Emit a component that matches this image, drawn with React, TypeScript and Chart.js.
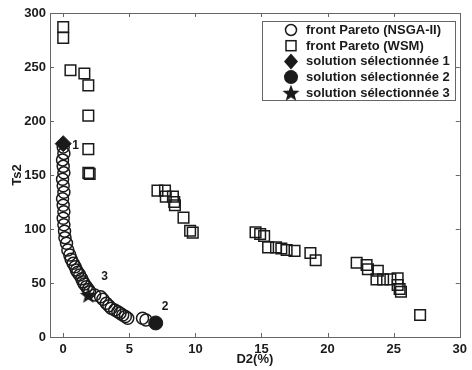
import React, { useEffect, useRef } from "react";
import { Chart, registerables } from "chart.js";

Chart.register(...registerables);

// ---- data ----
const xTicks = [0, 5, 10, 15, 20, 25, 30];
const yTicks = [0, 50, 100, 150, 200, 250, 300];

const seriesLabels = [
  "front Pareto (NSGA-II)",
  "front Pareto (WSM)",
  "solution sélectionnée 1",
  "solution sélectionnée 2",
  "solution sélectionnée 3",
];
const selectionTags = ["1", "2", "3"];

const nsgaX = [
  0, 0.05, -0.05, 0, 0.05, -0.05, 0, 0.05, -0.05, 0, 0.05, 0, 0.05, 0.1, 0.13,
  0.25, 0.35, 0.5, 0.6, 0.75, 0.9, 1.0, 1.1, 1.25, 1.4, 1.5, 1.6, 1.75, 1.9, 2.0,
  2.38, 2.83, 3.0, 3.26, 3.45, 3.63, 3.9, 4.13, 4.3, 4.5, 4.7, 4.88, 6.0, 6.26,
];
const nsgaY = [
  176, 170, 164, 158, 152, 146, 140, 134, 128, 122, 116, 110, 104, 98, 92,
  86.8, 80.6, 76, 72, 68.2, 65, 62, 60, 57.4, 54, 51.2, 49, 46.6, 44, 42,
  38.9, 37.3, 35, 31.2, 29, 26.6, 25, 23.4, 22, 20.4, 19, 17.3, 17.3, 15.7,
];

const wsmX = [
  0, 0, 0.55, 1.6, 1.9, 1.9, 1.9, 1.9, 2.0,
  7.13, 7.7, 7.76, 8.3, 8.4, 8.45, 9.1, 9.6, 9.8,
  14.55, 14.9, 15.2, 15.5, 16.1, 16.5, 16.9, 17.5, 18.7, 19.1,
  22.2, 22.95, 23.05, 23.8, 23.7, 24.2, 24.75, 25.3, 25.3, 25.45, 25.55, 27.0,
];
const wsmY = [
  287, 277, 247, 244, 233, 205, 174, 152, 151,
  135.5, 135.5, 130, 130, 125, 122, 110.5, 98.4, 96.6,
  97, 95.4, 93.5, 83, 83, 82, 80.6, 79.7, 77.8, 71,
  68.8, 66.7, 62.7, 61.4, 53.4, 53.4, 53.4, 54.3, 48.1, 44.4, 41.9, 20.4,
];

const sel1X = [0];
const sel1Y = [179];
const sel2X = [7.0];
const sel2Y = [13];
const sel3X = [1.9];
const sel3Y = [39];

const FONT = "'Liberation Sans', Arial, Helvetica, sans-serif";
const INK = "#1a1a1a";
const AXIS = "#666666";

function makeStar(outer: number, inner: number, color: string) {
  const size = Math.ceil(outer * 2 + 2);
  const c = document.createElement("canvas");
  c.width = size;
  c.height = size;
  const g = c.getContext("2d")!;
  const cx = size / 2;
  const cy = size / 2 + 0.8;
  g.beginPath();
  for (let i = 0; i < 10; i++) {
    const r = i % 2 === 0 ? outer : inner;
    const a = -Math.PI / 2 + (i * Math.PI) / 5;
    const px = cx + r * Math.cos(a);
    const py = cy + r * Math.sin(a);
    if (i === 0) g.moveTo(px, py);
    else g.lineTo(px, py);
  }
  g.closePath();
  g.fillStyle = color;
  g.fill();
  return c;
}

function drawMarker(ctx: CanvasRenderingContext2D, kind: string, x: number, y: number, star: HTMLCanvasElement) {
  ctx.save();
  ctx.strokeStyle = INK;
  ctx.fillStyle = INK;
  ctx.lineWidth = 1.5;
  if (kind === "circle") {
    ctx.beginPath();
    ctx.arc(x, y, 5.5, 0, Math.PI * 2);
    ctx.stroke();
  } else if (kind === "rect") {
    ctx.strokeRect(x - 5, y - 5, 10, 10);
  } else if (kind === "diamond") {
    ctx.beginPath();
    ctx.moveTo(x, y - 8);
    ctx.lineTo(x + 7, y);
    ctx.lineTo(x, y + 8);
    ctx.lineTo(x - 7, y);
    ctx.closePath();
    ctx.fill();
  } else if (kind === "dot") {
    ctx.beginPath();
    ctx.arc(x, y, 7, 0, Math.PI * 2);
    ctx.fill();
  } else if (kind === "star") {
    ctx.drawImage(star, x - star.width / 2, y - star.height / 2);
  }
  ctx.restore();
}

export default function App() {
  const ref = useRef<HTMLCanvasElement | null>(null);

  useEffect(() => {
    if (!ref.current) return;
    const star = makeStar(9, 3.8, INK);
    const legendStar = makeStar(9, 3.8, INK);
    const toPts = (xs: number[], ys: number[]) => xs.map((x, i) => ({ x, y: ys[i] }));

    const frame = {
      id: "frame",
      beforeDatasetsDraw(chart: any) {
        const { ctx, chartArea } = chart;
        const { left, right, top, bottom } = chartArea;
        const xs = chart.scales.x;
        const ys = chart.scales.y;
        ctx.save();
        ctx.strokeStyle = AXIS;
        ctx.lineWidth = 1;
        ctx.strokeRect(Math.round(left) + 0.5, Math.round(top) + 0.5, Math.round(right - left), Math.round(bottom - top));
        const t = 4;
        ctx.beginPath();
        xTicks.forEach((v) => {
          const px = Math.round(xs.getPixelForValue(v)) + 0.5;
          ctx.moveTo(px, bottom);
          ctx.lineTo(px, bottom - t);
          ctx.moveTo(px, top);
          ctx.lineTo(px, top + t);
        });
        yTicks.forEach((v) => {
          const py = Math.round(ys.getPixelForValue(v)) + 0.5;
          ctx.moveTo(left, py);
          ctx.lineTo(left + t, py);
          ctx.moveTo(right, py);
          ctx.lineTo(right - t, py);
        });
        ctx.stroke();
        ctx.restore();
      },
      afterDraw(chart: any) {
        const { ctx } = chart;
        const xs = chart.scales.x;
        const ys = chart.scales.y;
        ctx.save();
        // selection tags
        ctx.fillStyle = INK;
        ctx.font = `bold 12px ${FONT}`;
        ctx.textBaseline = "middle";
        ctx.textAlign = "left";
        const sx1 = xs.getPixelForValue(sel1X[0]);
        const sy1 = ys.getPixelForValue(sel1Y[0]);
        ctx.fillText(selectionTags[0], sx1 + 9, sy1 + 2);
        const sx2 = xs.getPixelForValue(sel2X[0]);
        const sy2 = ys.getPixelForValue(sel2Y[0]);
        ctx.fillText(selectionTags[1], sx2 + 6, sy2 - 16);
        const sx3 = xs.getPixelForValue(sel3X[0]);
        const sy3 = ys.getPixelForValue(sel3Y[0]);
        ctx.fillText(selectionTags[2], sx3 + 13, sy3 - 18);

        // legend
        const bx = 262.5, by = 21.5, bw = 193, bh = 79;
        ctx.fillStyle = "#ffffff";
        ctx.fillRect(bx, by, bw, bh);
        ctx.strokeStyle = AXIS;
        ctx.lineWidth = 1;
        ctx.strokeRect(bx, by, bw, bh);
        const kinds = ["circle", "rect", "diamond", "dot", "star"];
        ctx.font = `bold 13px ${FONT}`;
        seriesLabels.forEach((lab, i) => {
          const ry = 30 + i * 15.7;
          drawMarker(ctx, kinds[i], 291, ry, legendStar);
          ctx.fillStyle = INK;
          ctx.fillText(lab, 306, ry + 0.5);
        });
        ctx.restore();
      },
    };

    const chart = new Chart(ref.current, {
      type: "scatter",
      data: {
        datasets: [
          {
            label: seriesLabels[0],
            data: toPts(nsgaX, nsgaY),
            pointStyle: "circle",
            pointRadius: 6,
            borderColor: INK,
            backgroundColor: "rgba(0,0,0,0)",
            borderWidth: 1.5,
          },
          {
            label: seriesLabels[1],
            data: toPts(wsmX, wsmY),
            pointStyle: "rect",
            pointRadius: 7.5,
            borderColor: INK,
            backgroundColor: "rgba(0,0,0,0)",
            borderWidth: 1.5,
          },
          {
            label: seriesLabels[2],
            data: toPts(sel1X, sel1Y),
            pointStyle: "rectRot",
            pointRadius: 8,
            borderColor: INK,
            backgroundColor: INK,
            borderWidth: 1,
          },
          {
            label: seriesLabels[3],
            data: toPts(sel2X, sel2Y),
            pointStyle: "circle",
            pointRadius: 7,
            borderColor: INK,
            backgroundColor: INK,
            borderWidth: 1,
          },
          {
            label: seriesLabels[4],
            data: toPts(sel3X, sel3Y),
            pointStyle: star as any,
            pointRadius: 9,
            borderColor: INK,
            backgroundColor: INK,
          },
        ],
      },
      options: {
        animation: false,
        responsive: false,
        events: [],
        layout: { padding: { top: 13, right: 10, left: 0, bottom: 0 } },
        plugins: {
          legend: { display: false },
          tooltip: { enabled: false },
        },
        scales: {
          x: {
            type: "linear",
            min: -1,
            max: 30,
            afterBuildTicks: (s: any) => {
              s.ticks = xTicks.map((v) => ({ value: v }));
            },
            afterFit: (s: any) => {
              s.height = 33;
            },
            grid: { display: false, drawTicks: false },
            border: { display: false },
            ticks: {
              padding: 5,
              color: INK,
              font: { family: FONT, size: 13, weight: "bold" },
              maxRotation: 0,
            },
            title: {
              display: true,
              text: "D2(%)",
              color: INK,
              font: { family: FONT, size: 13, weight: "bold" },
              padding: { top: 0, bottom: 3 },
            },
          },
          y: {
            type: "linear",
            min: 0,
            max: 300,
            afterBuildTicks: (s: any) => {
              s.ticks = yTicks.map((v) => ({ value: v }));
            },
            afterFit: (s: any) => {
              s.width = 50;
            },
            grid: { display: false, drawTicks: false },
            border: { display: false },
            ticks: {
              padding: 4,
              color: INK,
              font: { family: FONT, size: 13, weight: "bold" },
            },
            title: {
              display: true,
              text: "Ts2",
              color: INK,
              font: { family: FONT, size: 13, weight: "bold" },
              padding: { top: 10, bottom: 0 },
            },
          },
        },
      },
      plugins: [frame],
    } as any);

    return () => chart.destroy();
  }, []);

  return (
    <div style={{ position: "absolute", left: 0, top: 0, width: 472, height: 370, background: "#fff" }}>
      <canvas ref={ref} width={472} height={370} style={{ display: "block" }} />
    </div>
  );
}
